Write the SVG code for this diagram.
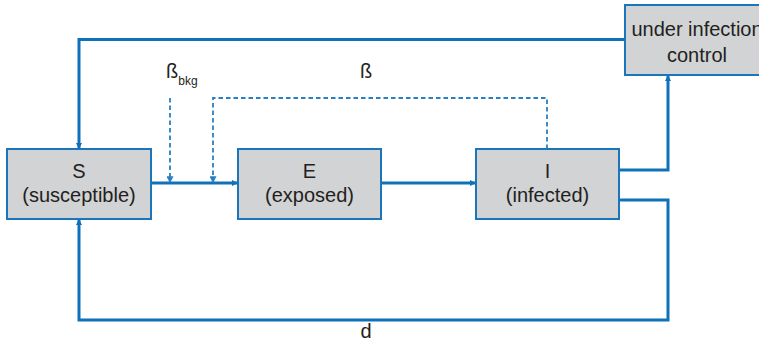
<svg xmlns="http://www.w3.org/2000/svg" width="759" height="344" viewBox="0 0 759 344">
<style>
.box{fill:#d1d3d4;stroke:#1b75bb;stroke-width:2}
.t{font-family:"Liberation Sans",Arial,sans-serif;font-size:20px;fill:#231f20;text-anchor:middle}
.ln{fill:none;stroke:#0f71b9;stroke-width:3}
.ds{fill:none;stroke:#2a7fc4;stroke-width:1.8;stroke-dasharray:4.5 3}
</style>
<defs>
<marker id="ah" viewBox="0 0 6 6" refX="5" refY="3" markerWidth="6" markerHeight="6" markerUnits="userSpaceOnUse" orient="auto">
<path d="M0,0 L6,3 L0,6 Z" fill="#0f71b9"/>
</marker>
<marker id="ahd" viewBox="0 0 6 6" refX="5" refY="3" markerWidth="7" markerHeight="7" markerUnits="userSpaceOnUse" orient="auto">
<path d="M0,0 L6,3 L0,6 Z" fill="#2a7fc4"/>
</marker>
</defs>
<g id="connectors">
<path class="ln" d="M625,39.5 H79 V148" marker-end="url(#ah)"/>
<path class="ln" d="M151,183 H237" marker-end="url(#ah)"/>
<path class="ln" d="M381,183 H475" marker-end="url(#ah)"/>
<path class="ln" d="M619,170 H668 V76" marker-end="url(#ah)"/>
<path class="ln" d="M619,200 H668 V320 H79 V220" marker-end="url(#ah)"/>
<path class="ds" d="M170,98 V182" marker-end="url(#ahd)"/>
<path class="ds" d="M547,149 V98 H213 V182" marker-end="url(#ahd)"/>
</g>
<g id="S">
<rect class="box" x="7" y="149" width="144" height="70"/>
<text class="t" x="79" y="178">S</text>
<text class="t" x="79" y="202">(susceptible)</text>
</g>
<g id="E">
<rect class="box" x="238" y="149" width="143" height="70"/>
<text class="t" x="309.5" y="178">E</text>
<text class="t" x="309.5" y="202">(exposed)</text>
</g>
<g id="I">
<rect class="box" x="476" y="149" width="143" height="70"/>
<text class="t" x="547.5" y="178">I</text>
<text class="t" x="547.5" y="202">(infected)</text>
</g>
<g id="control">
<rect class="box" x="625" y="5" width="144" height="70"/>
<text class="t" x="697" y="36">under infection</text>
<text class="t" x="697" y="62">control</text>
</g>
<g id="labels">
<text class="t" x="166" y="78" style="text-anchor:start">ß<tspan font-size="12" dy="7">bkg</tspan></text>
<text class="t" x="366" y="78">ß</text>
<text class="t" x="366" y="338">d</text>
</g>
</svg>
